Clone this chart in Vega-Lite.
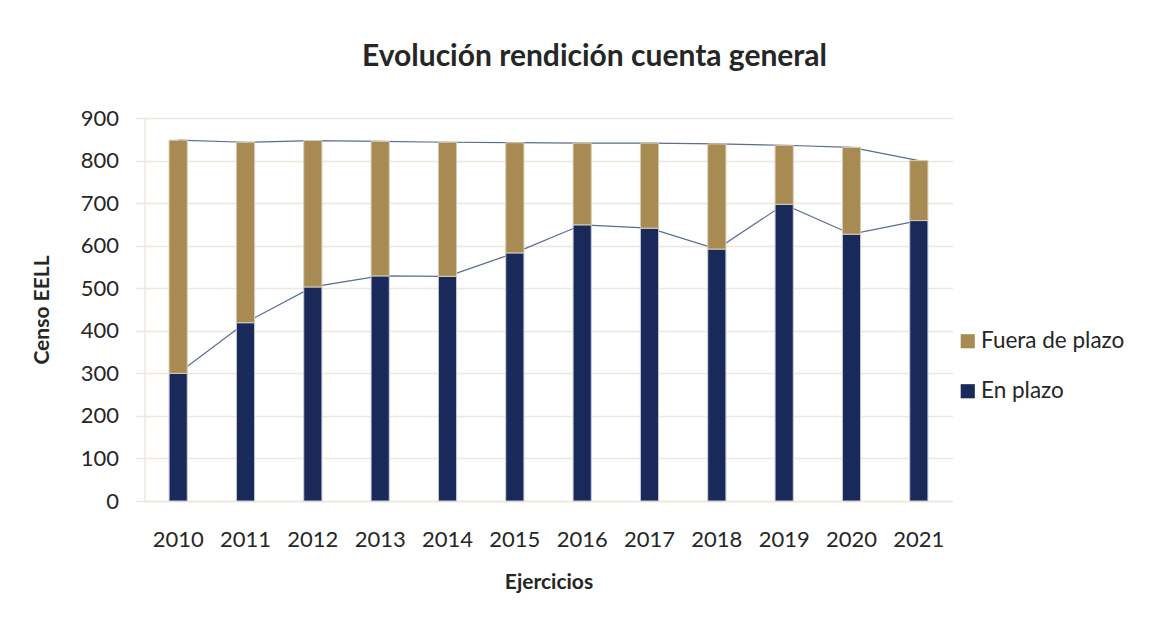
{
  "$schema": "https://vega.github.io/schema/vega-lite/v6.json",
  "autosize": {"type": "none"},
  "width": 808,
  "height": 383,
  "padding": {"left": 144.5, "top": 118, "right": 213.5, "bottom": 120},
  "background": "white",
  "title": {
    "text": "Evolución rendición cuenta general",
    "font": "Lato",
    "fontSize": 30,
    "fontWeight": "bold",
    "color": "#262626",
    "anchor": "middle",
    "dx": 46,
    "offset": 35
  },
  "data": {
    "values": [
      {"year": "2010", "en_plazo": 300, "total": 848},
      {"year": "2011", "en_plazo": 419, "total": 843},
      {"year": "2012", "en_plazo": 503, "total": 847},
      {"year": "2013", "en_plazo": 529, "total": 845},
      {"year": "2014", "en_plazo": 528, "total": 843},
      {"year": "2015", "en_plazo": 583, "total": 842},
      {"year": "2016", "en_plazo": 649, "total": 841},
      {"year": "2017", "en_plazo": 641, "total": 841},
      {"year": "2018", "en_plazo": 592, "total": 839},
      {"year": "2019", "en_plazo": 697, "total": 836},
      {"year": "2020", "en_plazo": 627, "total": 831},
      {"year": "2021", "en_plazo": 659, "total": 800}
    ]
  },
  "encoding": {
    "x": {
      "field": "year",
      "type": "ordinal",
      "scale": {"paddingInner": 0.73, "paddingOuter": 0.365},
      "axis": {
        "title": "Ejercicios",
        "labelAngle": 0,
        "labelFont": "Lato",
        "labelFontSize": 22,
        "labelColor": "#262626",
        "labelPadding": 28,
        "ticks": false,
        "domainColor": "#efe7dc",
        "domainWidth": 1.5,
        "titleFont": "Lato",
        "titleFontSize": 21,
        "titleFontWeight": "bold",
        "titleColor": "#262626",
        "titlePadding": 21
      }
    }
  },
  "layer": [
    {
      "mark": {"type": "line", "color": "#5b6b94", "strokeWidth": 1.2},
      "encoding": {
        "y": {
          "field": "en_plazo",
          "type": "quantitative",
          "scale": {"domain": [0, 900]},
          "axis": {
            "title": "Censo EELL",
            "values": [0, 100, 200, 300, 400, 500, 600, 700, 800, 900],
            "labelFont": "Lato",
            "labelFontSize": 22,
            "labelColor": "#262626",
            "labelPadding": 17,
            "tickSize": 9,
            "tickColor": "#efe7dc",
            "tickWidth": 1.5,
            "domainColor": "#efe7dc",
            "domainWidth": 1.5,
            "gridColor": "#efe7dc",
            "gridWidth": 1.5,
            "titleFont": "Lato",
            "titleFontSize": 21,
            "titleFontWeight": "bold",
            "titleColor": "#262626",
            "titlePadding": 28
          }
        }
      }
    },
    {
      "mark": {"type": "line", "color": "#5b6b94", "strokeWidth": 1.2},
      "encoding": {"y": {"field": "total", "type": "quantitative"}}
    },
    {
      "mark": {"type": "bar", "stroke": "#c9ccd6", "strokeWidth": 1},
      "encoding": {
        "y": {"field": "en_plazo", "type": "quantitative"},
        "color": {
          "datum": "En plazo",
          "scale": {"domain": ["Fuera de plazo", "En plazo"], "range": ["#a88b52", "#192a5a"]}
        }
      }
    },
    {
      "mark": {"type": "bar", "stroke": "#d6ccb8", "strokeWidth": 1},
      "encoding": {
        "y": {"field": "en_plazo", "type": "quantitative"},
        "y2": {"field": "total"},
        "color": {"datum": "Fuera de plazo"}
      }
    }
  ],
  "resolve": {"scale": {"y": "shared"}},
  "config": {
    "view": {"stroke": null},
    "legend": {
      "orient": "none",
      "legendX": 812,
      "legendY": 212,
      "title": null,
      "symbolType": "square",
      "symbolSize": 200,
      "symbolStrokeWidth": 0,
      "labelFont": "Lato",
      "labelFontSize": 22.5,
      "labelColor": "#262626",
      "labelOffset": 2,
      "rowPadding": 27
    }
  }
}
